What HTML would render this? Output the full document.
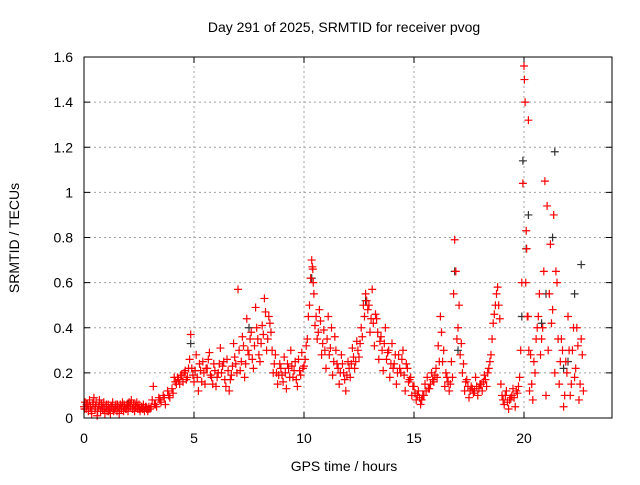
<!DOCTYPE html>
<html><head><meta charset="utf-8"><style>
body{margin:0;background:#fff;width:640px;height:480px;overflow:hidden}
svg text{font-family:"Liberation Sans",sans-serif;font-size:14px;fill:#000}
</style></head><body>
<svg id="chart" width="640" height="480" xmlns="http://www.w3.org/2000/svg">
<g id="grid"></g>
<g id="ticks"></g>
<g id="marks"></g>
<rect x="84" y="57" width="528" height="361" fill="none" stroke="#000" stroke-width="1"/>
<text x="344" y="32" text-anchor="middle">Day 291 of 2025, SRMTID for receiver pvog</text>
<text x="344" y="471" text-anchor="middle">GPS time / hours</text>
<text transform="translate(19,238) rotate(-90)" text-anchor="middle">SRMTID / TECUs</text>
</svg>
<script>
const xTicks=[0,5,10,15,20];
const yTicks=[0,0.2,0.4,0.6,0.8,1,1.2,1.4,1.6];
const yTickLabels=["0","0.2","0.4","0.6","0.8","1","1.2","1.4","1.6"];
const redTimes=[0,0.05,0.1,0.15,0.2,0.25,0.3,0.35,0.4,0.45,0.5,0.55,0.6,0.65,0.7,0.75,0.8,0.85,0.9,0.95,1.0,1.05,1.1,1.15,1.2,1.25,1.3,1.35,1.4,1.45,1.5,1.55,1.6,1.65,1.7,1.75,1.8,1.85,1.9,1.95,2.0,2.05,2.1,2.15,2.2,2.25,2.3,2.35,2.4,2.45,2.5,2.55,2.6,2.65,2.7,2.75,2.8,2.85,2.9,2.95,3.0,3.1,3.15,3.2,3.3,3.4,3.5,3.6,3.7,3.8,3.9,4.0,4.1,4.2,4.3,4.4,4.5,4.6,4.7,4.8,4.85,4.9,5.0,5.1,5.2,5.3,5.4,5.5,5.6,5.7,5.8,5.9,6.0,6.1,6.2,6.3,6.4,6.5,6.6,6.7,6.8,6.9,7.0,7.05,7.1,7.2,7.3,7.4,7.5,7.6,7.7,7.8,7.9,8.0,8.1,8.2,8.3,8.4,8.5,8.6,8.7,8.8,8.9,9.0,9.1,9.2,9.3,9.4,9.5,9.6,9.7,9.8,9.9,10.0,10.1,10.2,10.3,10.35,10.4,10.45,10.5,10.6,10.7,10.8,10.9,11.0,11.1,11.2,11.3,11.4,11.5,11.6,11.7,11.8,11.9,12.0,12.1,12.2,12.3,12.4,12.5,12.6,12.7,12.8,12.9,13.0,13.1,13.2,13.3,13.4,13.5,13.6,13.7,13.8,13.9,14.0,14.1,14.2,14.3,14.4,14.5,14.6,14.7,14.8,14.9,15.0,15.1,15.2,15.3,15.4,15.5,15.6,15.7,15.8,15.9,16.0,16.1,16.2,16.3,16.4,16.5,16.6,16.7,16.8,16.85,16.9,17.0,17.1,17.2,17.3,17.4,17.5,17.6,17.7,17.8,17.9,18.0,18.1,18.2,18.3,18.4,18.5,18.6,18.7,18.8,18.9,19.0,19.1,19.2,19.3,19.4,19.5,19.6,19.7,19.8,19.85,19.9,19.95,20.0,20.02,20.05,20.1,20.15,20.2,20.25,20.3,20.4,20.5,20.6,20.7,20.8,20.9,20.95,21.0,21.05,21.1,21.2,21.3,21.35,21.4,21.5,21.6,21.7,21.8,21.9,22.0,22.1,22.2,22.3,22.4,22.5,22.6,22.7];
const redValues=[.05,.07,.04,.06,.03,.08,.05,.02,.06,.09,.04,.07,.01,.05,.08,.03,.06,.04,.07,.02,.05,.03,.06,.04,.02,.05,.07,.03,.04,.06,.03,.05,.02,.06,.04,.07,.03,.05,.04,.06,.03,.07,.05,.08,.04,.06,.03,.05,.07,.04,.06,.03,.05,.04,.06,.03,.05,.04,.03,.05,.04,.08,.14,.06,.05,.09,.07,.10,.06,.12,.09,.13,.18,.15,.17,.19,.16,.21,.18,.26,.37,.22,.16,.28,.12,.21,.25,.15,.22,.29,.18,.24,.14,.20,.31,.23,.17,.26,.12,.19,.33,.24,.57,.30,.21,.36,.18,.44,.28,.38,.22,.49,.35,.25,.41,.53,.30,.45,.38,.20,.28,.15,.24,.19,.27,.13,.22,.30,.18,.25,.14,.21,.29,.23,.32,.45,.62,.70,.66,.55,.41,.35,.48,.28,.39,.22,.45,.31,.19,.36,.24,.15,.28,.20,.12,.25,.18,.31,.22,.34,.27,.40,.50,.55,.48,.38,.57,.32,.44,.26,.36,.21,.40,.29,.18,.33,.24,.15,.28,.20,.30,.12,.22,.17,.10,.14,.08,.12,.06,.10,.15,.18,.13,.20,.16,.22,.32,.45,.25,.14,.18,.12,.25,.55,.79,.65,.40,.28,.20,.12,.17,.09,.14,.11,.18,.10,.15,.12,.19,.14,.22,.28,.42,.50,.58,.44,.10,.06,.12,.04,.09,.13,.05,.11,.18,.30,.60,1.04,1.56,1.50,1.40,.83,.45,1.32,.12,.28,.08,.20,.40,.55,.35,.65,1.05,.10,.94,.30,.77,.48,.90,.20,.60,.15,.35,.05,.25,.45,.10,.30,.18,.40,.08,.35,.12];
const extraTimes=[0.02,0.12,0.22,0.33,0.42,0.52,0.62,0.72,0.82,0.92,1.02,1.12,1.22,1.32,1.42,1.52,1.62,1.72,1.82,1.92,2.02,2.12,2.22,2.32,2.42,2.52,2.62,2.72,2.82,2.92,3.05,3.25,3.45,3.65,3.85,4.05,4.15,4.25,4.35,4.45,4.55,4.65,4.75,4.95,5.05,5.15,5.25,5.35,5.45,5.55,5.65,5.75,5.85,5.95,6.05,6.15,6.25,6.35,6.45,6.55,6.65,6.75,6.85,6.95,7.15,7.25,7.35,7.45,7.55,7.65,7.75,7.85,7.95,8.05,8.15,8.25,8.35,8.45,8.55,8.65,8.75,8.85,8.95,9.05,9.15,9.25,9.35,9.45,9.55,9.65,9.75,9.85,9.95,10.05,10.15,10.25,10.38,10.42,10.55,10.65,10.75,10.85,10.95,11.05,11.15,11.25,11.35,11.45,11.55,11.65,11.75,11.85,11.95,12.05,12.15,12.25,12.35,12.45,12.55,12.65,12.75,12.85,12.95,13.05,13.15,13.25,13.35,13.45,13.55,13.65,13.75,13.85,13.95,14.05,14.15,14.25,14.35,14.45,14.55,14.65,14.75,14.85,14.95,15.05,15.15,15.25,15.35,15.45,15.55,15.65,15.75,15.85,15.95,16.05,16.15,16.25,16.35,16.45,16.55,16.65,16.75,16.95,17.05,17.15,17.25,17.35,17.45,17.55,17.65,17.75,17.85,17.95,18.05,18.15,18.25,18.35,18.45,18.55,18.65,18.75,18.85,18.95,19.05,19.15,19.25,19.35,19.45,19.55,19.65,19.75,20.08,20.12,20.18,20.22,20.35,20.45,20.55,20.65,20.75,20.85,21.15,21.25,21.45,21.55,21.65,21.75,21.85,21.95,22.05,22.15,22.25,22.35,22.45,22.55,22.65];
const extraValues=[.04,.06,.05,.03,.07,.05,.03,.06,.05,.04,.06,.03,.05,.04,.05,.06,.04,.05,.06,.04,.05,.06,.04,.06,.05,.04,.05,.04,.05,.04,.05,.06,.08,.09,.10,.11,.16,.18,.15,.19,.20,.17,.22,.19,.21,.18,.24,.16,.20,.22,.26,.19,.15,.21,.18,.24,.20,.25,.14,.21,.17,.23,.27,.20,.25,.32,.24,.30,.35,.26,.32,.40,.28,.33,.37,.47,.35,.42,.30,.24,.20,.19,.22,.16,.20,.24,.18,.23,.21,.17,.26,.19,.22,.26,.35,.50,.67,.60,.45,.38,.43,.33,.30,.35,.28,.40,.25,.30,.22,.20,.24,.17,.19,.22,.24,.27,.25,.30,.33,.36,.45,.52,.50,.44,.42,.46,.38,.34,.30,.33,.26,.30,.24,.22,.28,.20,.22,.26,.19,.24,.16,.18,.14,.11,.10,.09,.08,.10,.12,.13,.15,.17,.19,.18,.25,.38,.30,.20,.16,.15,.18,.35,.50,.33,.24,.16,.14,.12,.13,.12,.14,.13,.15,.16,.17,.20,.25,.35,.46,.55,.50,.15,.08,.10,.07,.08,.10,.09,.12,.14,.60,.75,.45,.30,.15,.25,.35,.45,.28,.40,.55,.42,.65,.35,.25,.30,.10,.20,.30,.15,.40,.22,.32,.15,.28,.25];
const blackTimes=[0.3,2.0,4.85,7.5,10.35,12.8,16.85,17.0,19.9,19.95,20.1,20.2,20.8,21.0,21.3,21.4,21.8,22.0,22.3,22.6];
const blackValues=[.05,.06,.33,.40,.62,.52,.65,.30,.45,1.14,.75,.90,.42,.55,.80,1.18,.22,.25,.55,.68];

const NS="http://www.w3.org/2000/svg";
const X0=84,X1=612,Y0=418,Y1=57,XMAX=24,YMAX=1.6;
function xs(t){return X0+(X1-X0)*t/XMAX;}
function ys(v){return Y0-(Y0-Y1)*v/YMAX;}
function mk(tag,attrs){const e=document.createElementNS(NS,tag);for(const k in attrs)e.setAttribute(k,attrs[k]);return e;}
const grid=document.getElementById('grid'),ticks=document.getElementById('ticks'),marks=document.getElementById('marks'),svg=document.getElementById('chart');
xTicks.forEach(t=>{
  const x=xs(t);
  if(t>0){const g=mk('line',{x1:x,x2:x,y1:Y0,y2:Y1,stroke:'#a0a0a0','stroke-dasharray':'2,3'});
  
  grid.appendChild(g);}
  const tk=mk('path',{d:`M${x},${Y0}v-6M${x},${Y1}v6`,stroke:'#000'});
  
  ticks.appendChild(tk);
  const l=mk('text',{x:x,y:443,'text-anchor':'middle'});l.textContent=t;
  
  svg.appendChild(l);
});
yTicks.forEach((v,i)=>{
  const y=ys(v);
  if(v>0&&v<YMAX){const g=mk('line',{x1:X0,x2:X1,y1:y,y2:y,stroke:'#a0a0a0','stroke-dasharray':'2,3'});
  
  grid.appendChild(g);}
  const tk=mk('path',{d:`M${X0},${y}h6M${X1},${y}h-6`,stroke:'#000'});
  
  ticks.appendChild(tk);
  const l=mk('text',{x:73,y:y+5,'text-anchor':'end'});l.textContent=yTickLabels[i];
  
  svg.appendChild(l);
});
function plus(t,v,c,name){
  const x=xs(t),y=ys(v);
  const p=mk('path',{d:`M${x-4},${y}h8M${x},${y-4}v8`,stroke:c,'stroke-width':1.2});
  
  
  marks.appendChild(p);
}
blackTimes.forEach((t,i)=>plus(t,blackValues[i],'#333','black-point'));
redTimes.forEach((t,i)=>plus(t,redValues[i],'#ff0000','red-point'));
extraTimes.forEach((t,i)=>plus(t,extraValues[i],'#ff0000','red-point'));
</script>
</body></html>
